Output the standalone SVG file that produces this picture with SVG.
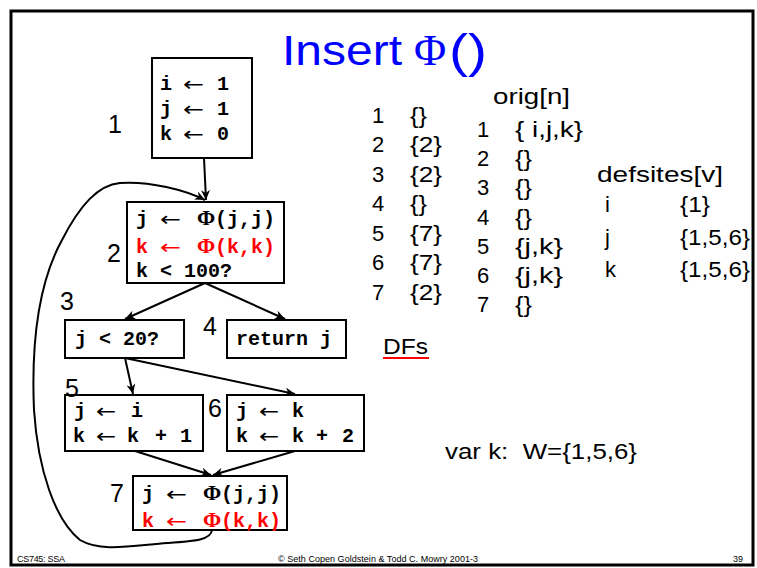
<svg xmlns="http://www.w3.org/2000/svg" width="757" height="568" viewBox="0 0 757 568">
<defs>
<marker id="ah" markerUnits="userSpaceOnUse" markerWidth="11" markerHeight="9" refX="10" refY="4.5" orient="auto">
<path d="M0,0 L10,4.5 L0,9 L3,4.5 z" fill="#000"/>
</marker>
<style>
.box{fill:#fff;stroke:#000;stroke-width:2}
.code{font-family:"Liberation Mono","Courier New",monospace;font-size:20px;font-weight:bold;fill:#000}
.arr{font-family:"DejaVu Sans",sans-serif;font-weight:normal;font-size:20px;fill:#000}
.phi{font-family:"Liberation Serif","Times New Roman",serif;font-weight:bold;font-size:22px}
.red{fill:#ff0000}
.lbl{font-family:"Liberation Sans",Arial,sans-serif;font-size:25px;fill:#000}
.txt{font-family:"Liberation Sans",Arial,sans-serif;font-size:22px;fill:#000}
.foot{font-family:"Liberation Sans",Arial,sans-serif;font-size:9px;fill:#000}
.edge{fill:none;stroke:#000;stroke-width:2;marker-end:url(#ah)}
</style>
</defs>
<rect x="0" y="0" width="757" height="568" fill="#fff"/>
<rect x="11" y="11" width="742" height="554" fill="none" stroke="#000" stroke-width="3"/>

<g id="title" fill="#0000ff" font-family="Liberation Sans,Arial,sans-serif" font-size="42">
<text x="282" y="65" textLength="120" lengthAdjust="spacingAndGlyphs">Insert</text>
<text x="414" y="65" font-family="Liberation Serif,Times New Roman,serif" font-size="44">Φ</text>
<text x="449" y="67" font-size="46" textLength="38" lengthAdjust="spacingAndGlyphs">()</text>
</g>

<g id="connectors">
<path class="edge" d="M204,158 L206,200"/>
<path class="edge" d="M205,283 L125,319"/>
<path class="edge" d="M205,283 L285,319"/>
<path class="edge" d="M125,358 L133,394"/>
<path class="edge" d="M125,358 L295,394"/>
<path class="edge" d="M135,451 L211,475"/>
<path class="edge" d="M295,451 L213,475"/>
<path class="edge" d="M212,530 C211,540 195,541 167,543 C130,546 100,552 80,540 C55,520 38,470 34,410 C31,340 40,280 62,240 C80,205 98,185 120,183 C150,181 185,190 205,200"/>
</g>

<g id="node1">
<rect class="box" x="152" y="58" width="100" height="100"/>
<text class="code" x="160" y="90">i</text><text class="arr" transform="translate(183,91) scale(1.25,1)">←</text><text class="code" x="217" y="90">1</text>
<text class="code" x="160" y="115">j</text><text class="arr" transform="translate(183,116) scale(1.25,1)">←</text><text class="code" x="217" y="115">1</text>
<text class="code" x="160" y="140">k</text><text class="arr" transform="translate(183,141) scale(1.25,1)">←</text><text class="code" x="217" y="140">0</text>
<text class="lbl" x="108" y="133">1</text>
</g>

<g id="node2">
<rect class="box" x="127" y="202" width="157" height="81"/>
<text class="code" x="136" y="225">j</text><text class="arr" transform="translate(160,226) scale(1.25,1)">←</text>
<text class="code" y="225"><tspan class="phi" x="197">Φ</tspan><tspan x="215">(j,j)</tspan></text>
<text class="code red" x="136" y="253">k</text><text class="arr red" transform="translate(160,254) scale(1.25,1)">←</text>
<text class="code red" y="253"><tspan class="phi" x="197">Φ</tspan><tspan x="215">(k,k)</tspan></text>
<text class="code" x="136" y="277">k &lt; 100?</text>
<text class="lbl" x="107" y="262">2</text>
</g>

<g id="node3">
<rect class="box" x="65" y="320" width="119" height="38"/>
<text class="code" x="75" y="345">j &lt; 20?</text>
<text class="lbl" x="60" y="310">3</text>
</g>

<g id="node4">
<rect class="box" x="227" y="320" width="119" height="38"/>
<text class="code" x="236" y="345">return j</text>
<text class="lbl" x="203" y="335">4</text>
</g>

<g id="node5">
<rect class="box" x="65" y="395" width="138" height="56"/>
<text class="code" x="74" y="417">j</text><text class="arr" transform="translate(96,418) scale(1.2,1)">←</text><text class="code" x="131" y="417">i</text>
<text class="code" x="73" y="442">k</text><text class="arr" transform="translate(96,443) scale(1.2,1)">←</text>
<text class="code" y="442"><tspan x="127">k</tspan><tspan x="155">+</tspan><tspan x="180">1</tspan></text>
<text class="lbl" x="65" y="397">5</text>
</g>

<g id="node6">
<rect class="box" x="227" y="395" width="137" height="56"/>
<text class="code" x="236" y="417">j</text><text class="arr" transform="translate(259,418) scale(1.2,1)">←</text><text class="code" x="292" y="417">k</text>
<text class="code" x="236" y="442">k</text><text class="arr" transform="translate(259,443) scale(1.2,1)">←</text>
<text class="code" y="442"><tspan x="292">k</tspan><tspan x="316">+</tspan><tspan x="342">2</tspan></text>
<text class="lbl" x="208" y="417">6</text>
</g>

<g id="node7">
<rect class="box" x="133" y="476" width="154" height="54"/>
<text class="code" x="142" y="500">j</text><text class="arr" transform="translate(166,501) scale(1.25,1)">←</text>
<text class="code" y="500"><tspan class="phi" x="203">Φ</tspan><tspan x="221">(j,j)</tspan></text>
<text class="code red" x="142" y="527">k</text><text class="arr red" transform="translate(166,528) scale(1.25,1)">←</text>
<text class="code red" y="527"><tspan class="phi" x="203">Φ</tspan><tspan x="221">(k,k)</tspan></text>
<text class="lbl" x="110" y="502">7</text>
</g>

<g id="df-table">
<text class="txt" x="372" y="123">1</text><text class="txt" x="410" y="123" textLength="17" lengthAdjust="spacingAndGlyphs">{}</text>
<text class="txt" x="372" y="152">2</text><text class="txt" x="410" y="152" textLength="32" lengthAdjust="spacingAndGlyphs">{2}</text>
<text class="txt" x="372" y="182">3</text><text class="txt" x="410" y="182" textLength="32" lengthAdjust="spacingAndGlyphs">{2}</text>
<text class="txt" x="372" y="211">4</text><text class="txt" x="410" y="211" textLength="17" lengthAdjust="spacingAndGlyphs">{}</text>
<text class="txt" x="372" y="241">5</text><text class="txt" x="410" y="241" textLength="32" lengthAdjust="spacingAndGlyphs">{7}</text>
<text class="txt" x="372" y="270">6</text><text class="txt" x="410" y="270" textLength="32" lengthAdjust="spacingAndGlyphs">{7}</text>
<text class="txt" x="372" y="300">7</text><text class="txt" x="410" y="300" textLength="32" lengthAdjust="spacingAndGlyphs">{2}</text>
</g>

<g id="orig-table">
<text class="txt" x="493" y="104" textLength="77" lengthAdjust="spacingAndGlyphs">orig[n]</text>
<text class="txt" x="477" y="137">1</text><text class="txt" x="515" y="137" textLength="68" lengthAdjust="spacingAndGlyphs">{ i,j,k}</text>
<text class="txt" x="477" y="166">2</text><text class="txt" x="515" y="166" textLength="17" lengthAdjust="spacingAndGlyphs">{}</text>
<text class="txt" x="477" y="195">3</text><text class="txt" x="515" y="195" textLength="17" lengthAdjust="spacingAndGlyphs">{}</text>
<text class="txt" x="477" y="225">4</text><text class="txt" x="515" y="225" textLength="17" lengthAdjust="spacingAndGlyphs">{}</text>
<text class="txt" x="477" y="254">5</text><text class="txt" x="515" y="254" textLength="48" lengthAdjust="spacingAndGlyphs">{j,k}</text>
<text class="txt" x="477" y="283">6</text><text class="txt" x="515" y="283" textLength="48" lengthAdjust="spacingAndGlyphs">{j,k}</text>
<text class="txt" x="477" y="312">7</text><text class="txt" x="515" y="312" textLength="17" lengthAdjust="spacingAndGlyphs">{}</text>
</g>

<g id="defsites-table">
<text class="txt" x="597" y="182" textLength="126" lengthAdjust="spacingAndGlyphs">defsites[v]</text>
<text class="txt" x="605" y="212">i</text><text class="txt" x="680" y="212" textLength="30" lengthAdjust="spacingAndGlyphs">{1}</text>
<text class="txt" x="605" y="245">j</text><text class="txt" x="680" y="245" textLength="70" lengthAdjust="spacingAndGlyphs">{1,5,6}</text>
<text class="txt" x="605" y="277">k</text><text class="txt" x="680" y="277" textLength="70" lengthAdjust="spacingAndGlyphs">{1,5,6}</text>
</g>

<g id="dfs">
<text class="txt red" x="383" y="354" textLength="45" lengthAdjust="spacingAndGlyphs">DFs</text>
<line x1="383" y1="358" x2="429" y2="358" stroke="#ff0000" stroke-width="2"/>
</g>

<g id="worklist">
<text class="txt" x="445" y="459" textLength="192" lengthAdjust="spacingAndGlyphs" xml:space="preserve">var k:  W={1,5,6}</text>
</g>

<g id="footer">
<text class="foot" x="17" y="562" textLength="48">CS745: SSA</text>
<text class="foot" x="278" y="562" textLength="200">© Seth Copen Goldstein &amp; Todd C. Mowry 2001-3</text>
<text class="foot" x="733" y="562">39</text>
</g>
</svg>
